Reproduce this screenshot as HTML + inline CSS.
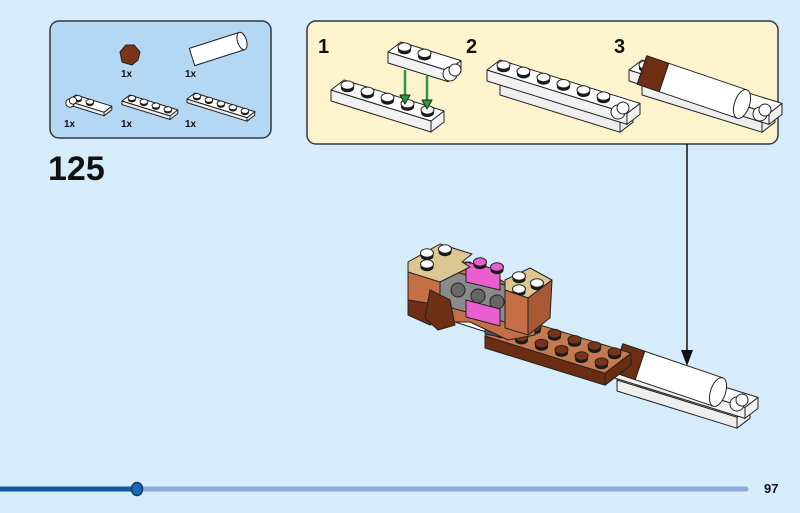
<!DOCTYPE html>
<html><head><meta charset="utf-8"><style>
html,body{margin:0;padding:0;background:#d6ecfb;}
svg{display:block;font-family:"Liberation Sans",sans-serif;}
</style></head><body>
<svg id="s" width="800" height="513" viewBox="0 0 800 513" xmlns="http://www.w3.org/2000/svg">
<rect width="800" height="513" fill="#d6ecfb"/>
<rect x="50" y="21" width="221" height="117" rx="9" fill="#b4d8f3" stroke="#2f3a44" stroke-width="1.5"/>
<rect x="307" y="21" width="471" height="123" rx="9" fill="#fdf3cd" stroke="#2f3a44" stroke-width="1.5"/>
<g id="g"></g>
<g font-weight="bold" font-size="10" fill="#111">
<text x="121" y="77">1x</text><text x="185" y="77">1x</text>
<text x="64" y="127">1x</text><text x="121" y="127">1x</text><text x="185" y="127">1x</text>
</g>
<text x="48" y="180" font-size="34" font-weight="bold" fill="#111">125</text>
<g font-size="20" font-weight="bold" fill="#111">
<text x="318" y="53">1</text><text x="466" y="53">2</text><text x="614" y="53">3</text>
</g>
<line x1="687" y1="144" x2="687" y2="352" stroke="#111" stroke-width="1.5"/>
<polygon points="681,350 693,350 687,366" fill="#111"/>
<line x1="0" y1="489" x2="137" y2="489" stroke="#0b5aa2" stroke-width="5"/>
<line x1="137" y1="489" x2="746" y2="489" stroke="#8eaad8" stroke-width="5" stroke-linecap="round"/>
<ellipse cx="137" cy="489" rx="5.5" ry="6.5" fill="#1d68b2" stroke="#0b3a72" stroke-width="1.5"/>
<text x="764" y="493" font-size="13" font-weight="bold" fill="#111">97</text>
</svg>
<script>
var G=document.getElementById('g'),NS='http://www.w3.org/2000/svg';
function el(t,a){var e=document.createElementNS(NS,t);for(var k in a)e.setAttribute(k,a[k]);G.appendChild(e);return e;}
function poly(p,f){el('polygon',{points:p.map(function(q){return q[0].toFixed(1)+','+q[1].toFixed(1)}).join(' '),fill:f,stroke:'#222','stroke-width':1,'stroke-linejoin':'round'});}
function stud(x,y,s,c){el('ellipse',{cx:x,cy:y+3*s,rx:6.5*s,ry:4.2*s,fill:'#1a1a1a'});el('rect',{x:x-6.5*s,y:y,width:13*s,height:3*s,fill:'#1a1a1a'});el('ellipse',{cx:x,cy:y,rx:6.5*s,ry:4.2*s,fill:c||'#fff',stroke:'#222','stroke-width':1});}
var UX=20,UY=6.2,VX=13,VY=-10;
function plate(x,y,n,w,h,s,top,side,studc,nst){
 var u=[UX*s,UY*s],v=[VX*s*w,VY*s*w],H=h*s;
 var P0=[x,y],P1=[x+n*u[0],y+n*u[1]],P2=[P1[0]+v[0],P1[1]+v[1]],P3=[x+v[0],y+v[1]];
 poly([P0,P1,[P1[0],P1[1]+H],[P0[0],P0[1]+H]],side);
 poly([P1,P2,[P2[0],P2[1]+H],[P1[0],P1[1]+H]],side);
 poly([P0,P1,P2,P3],top);
 if(nst!==0){var m=nst||n;for(var j=w-1;j>=0;j--)for(var i=0;i<m;i++)stud(x+(i+.5)*u[0]+(j+.5)*VX*s,y+(i+.5)*u[1]+(j+.5)*VY*s-3*s,s,studc);}
}
function hinge(x,y,s){el('circle',{cx:x,cy:y,r:7*s,fill:'#fff',stroke:'#222'});el('circle',{cx:x+5*s,cy:y-4*s,r:6*s,fill:'#fff',stroke:'#222'});}
function cyl(x1,y1,x2,y2,r,c1,brown){
 var dx=x2-x1,dy=y2-y1,L=Math.hypot(dx,dy),nx=-dy/L*r,ny=dx/L*r;
 poly([[x1+nx,y1+ny],[x2+nx,y2+ny],[x2-nx,y2-ny],[x1-nx,y1-ny]],c1);
 if(brown){var bx=x1+dx*.22,by=y1+dy*.22;poly([[x1+nx,y1+ny],[bx+nx,by+ny],[bx-nx,by-ny],[x1-nx,y1-ny]],'#6e2f14');}
 el('ellipse',{cx:x2,cy:y2,rx:r*0.5,ry:r,fill:'#fff',stroke:'#222',transform:'rotate('+(Math.atan2(dy,dx)*57.3)+' '+x2+' '+y2+')'});
}
// parts panel
plate(68,101,3,1,6,0.6,'#fff','#eee',null,2);hinge(70,103,0.6);
plate(122,101,4,1,6,0.6,'#fff','#eee');
plate(187,99,5,1,6,0.6,'#fff','#eee');
poly([[120,52],[126,45],[134,45],[140,52],[138,60],[132,65],[122,62]],'#7a3418');
cyl(192,57,242,41,9,'#fff');
// step 1
plate(331,90,5,1,11,1,'#fff','#f1f1f1');
plate(388,52,3,1,11,1,'#fff','#f1f1f1',null,2);hinge(450,74,1);
el('line',{x1:405,y1:70,x2:405,y2:98,stroke:'#2a9a3a','stroke-width':2.5});
el('line',{x1:427,y1:76,x2:427,y2:103,stroke:'#2a9a3a','stroke-width':2.5});
poly([[400,95],[410,95],[405,104]],'#2a9a3a');poly([[422,100],[432,100],[427,109]],'#2a9a3a');
// step 2
plate(500,84,6,1,11,1,'#fff','#eee',null,0);
plate(487,70,7,1,11,1,'#fff','#f1f1f1',null,6);hinge(618,112,1);
// step 3
plate(642,84,6,1,11,1,'#fff','#eee',null,0);
plate(629,70,7,1,11,1,'#fff','#f1f1f1',null,1);hinge(760,114,1);
cyl(642,70,742,104,15,'#fff',true);
// main model
plate(617,380,6,1,11,1,'#fff','#eee',null,0);
plate(605,364,7,1,11,1,'#fff','#f1f1f1',null,1);hinge(737,404,1);
cyl(618,358,718,392,15,'#fff',true);
plate(485,336,6,2,12,1,'#c47a4e','#6b2d12','#7a3418');
poly([[455,315],[505,332],[505,338],[455,322]],'#fff');
poly([[485,325],[503,330],[500,337],[485,334]],'#555');
// left structure
poly([[408,265],[470,262],[535,300],[535,335],[508,340],[470,322],[430,322],[408,312]],'#c46f45');
poly([[408,300],[440,305],[440,322],[430,325],[408,315]],'#6e2f14');
poly([[440,268],[505,285],[505,322],[440,305]],'#8a8a8a');
el('circle',{cx:458,cy:290,r:7,fill:'#666',stroke:'#222'});el('circle',{cx:478,cy:296,r:7,fill:'#666',stroke:'#222'});el('circle',{cx:497,cy:302,r:7,fill:'#666',stroke:'#222'});
poly([[466,300],[500,309],[500,326],[466,317]],'#ea5fcf');
poly([[466,262],[500,270],[500,290],[466,282]],'#ea5fcf');
stud(480,262,1,'#ea5fcf');stud(497,267,1,'#ea5fcf');
poly([[430,290],[450,300],[455,325],[438,330],[425,318]],'#6e2f14');
poly([[408,262],[440,244],[472,254],[462,262],[470,267],[440,282],[408,272]],'#dcc792');
stud(427,253,1);stud(445,249,1);stud(427,264,1);
poly([[505,280],[530,268],[552,280],[528,298],[505,290]],'#dcc792');
stud(519,276,1);stud(537,283,1);stud(519,289,1);
poly([[505,290],[528,298],[528,335],[505,328]],'#c46f45');
poly([[528,298],[552,280],[550,318],[528,335]],'#a85a36');
</script>
</body></html>
